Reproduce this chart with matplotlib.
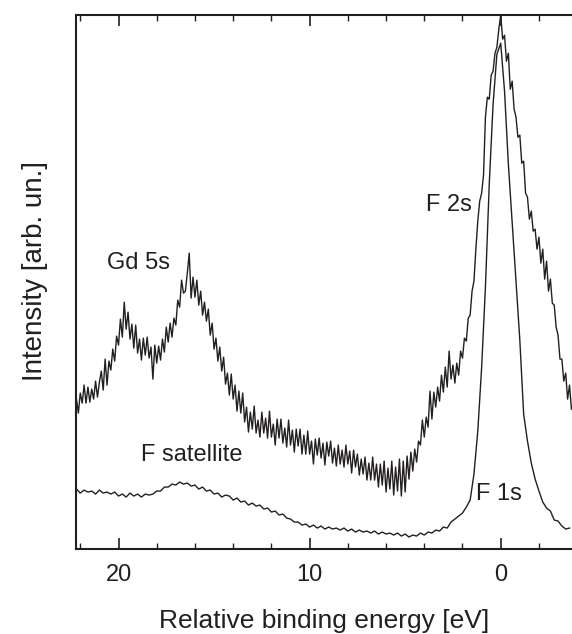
import numpy as np
import matplotlib
matplotlib.use('Agg')
import matplotlib.pyplot as plt
from matplotlib.ticker import MultipleLocator

plt.rcParams['font.family'] = 'Liberation Sans'

INK = '#231f20'

# --- upper spectrum: Gd 5s + F 2s (0.1 eV steps, 22.2 -> -3.7 eV) ---
e_start_hi, e_end_hi = 22.2, -3.7
counts_hi = [
    150, 136, 156, 146, 164, 146, 162, 147, 160, 150,
    168, 152, 167, 178, 159, 190, 164, 188, 179, 200,
    188, 213, 204, 230, 212, 247, 220, 237, 210, 225,
    201, 224, 196, 210, 189, 211, 194, 212, 191, 202,
    170, 204, 186, 203, 189, 210, 197, 222, 207, 226,
    212, 231, 224, 249, 242, 269, 256, 258, 276, 296,
    251, 272, 252, 269, 244, 258, 234, 247, 228, 240,
    214, 226, 200, 211, 188, 202, 178, 192, 165, 176,
    154, 175, 150, 164, 138, 158, 136, 156, 127, 142,
    117, 137, 120, 143, 116, 129, 112, 137, 116, 131,
    111, 138, 112, 125, 104, 130, 111, 130, 106, 121,
    102, 129, 104, 119, 97, 120, 103, 120, 95, 114,
    95, 118, 95, 108, 85, 110, 94, 111, 91, 106,
    84, 107, 93, 108, 86, 101, 83, 104, 85, 99,
    82, 104, 85, 98, 76, 99, 82, 95, 74, 90,
    75, 92, 69, 86, 69, 92, 69, 85, 62, 85,
    64, 88, 57, 81, 60, 88, 54, 82, 58, 90,
    53, 88, 57, 93, 70, 97, 78, 100, 87, 108,
    104, 129, 112, 132, 122, 158, 130, 157, 142, 162,
    148, 174, 157, 182, 162, 198, 170, 184, 166, 186,
    174, 198, 191, 211, 208, 231, 234, 258, 268, 300,
    328, 348, 356, 374, 432, 452, 450, 474, 478, 496,
    502, 520, 534, 510, 514, 488, 496, 460, 468, 440,
    432, 412, 414, 386, 388, 356, 352, 330, 338, 318,
    320, 300, 312, 286, 300, 270, 288, 258, 270, 246,
    244, 222, 214, 190, 190, 168, 176, 150, 164, 140,
]

# --- lower spectrum: F 1s + satellite (0.2 eV steps, 22.2 -> -3.6 eV) ---
e_start_lo, e_end_lo = 22.2, -3.6
counts_lo = [
    60, 56, 59, 57, 58, 55, 59, 56, 57, 55,
    57, 53, 55, 52, 56, 53, 55, 52, 55, 54,
    55, 58, 58, 62, 62, 65, 64, 67, 65, 66,
    63, 64, 60, 62, 58, 59, 55, 56, 52, 54,
    53, 49, 51, 47, 48, 44, 46, 43, 44, 40,
    41, 37, 38, 34, 35, 31, 30, 27, 27, 24,
    25, 22, 24, 21, 23, 20, 22, 20, 21, 19,
    21, 18, 20, 17, 19, 17, 18, 16, 18, 15,
    17, 15, 16, 14, 16, 13, 15, 12, 14, 13,
    16, 14, 17, 16, 19, 18, 22, 21, 27, 30,
    33, 36, 42, 49, 75, 118, 181, 262, 365, 445,
    495, 506, 458, 385, 327, 268, 209, 135, 108, 86,
    70, 58, 47, 41, 38, 29, 28, 23, 20, 21,
]

energy_hi = np.linspace(e_start_hi, e_end_hi, len(counts_hi))
energy_lo = np.linspace(e_start_lo, e_end_lo, len(counts_lo))

# peak labels: (text, energy, intensity)
peak_labels = [
    ('Gd 5s', 18.94, 286),
    ('F 2s', 2.71, 344),
    ('F satellite', 16.16, 94),
    ('F 1s', 0.09, 55),
]

fig = plt.figure(figsize=(5.72, 6.34), dpi=100)
ax = fig.add_axes([0.132, 0.134, 0.868, 0.842])

ax.plot(energy_hi, counts_hi, color=INK, lw=1.0)
ax.plot(energy_lo, counts_lo, color=INK, lw=1.0)

for txt, e, i in peak_labels:
    ax.text(e, i, txt, ha='center', va='center', fontsize=17, color=INK)

ax.set_xlim(22.25, -3.73)
ax.set_ylim(0, 534)
ax.set_yticks([])
ax.xaxis.set_major_locator(MultipleLocator(10))
ax.xaxis.set_minor_locator(MultipleLocator(2))
ax.tick_params(axis='x', which='both', direction='in', top=True, bottom=True,
               colors=INK, labelsize=17, pad=11)
ax.tick_params(axis='x', which='major', length=8, width=1.2)
ax.tick_params(axis='x', which='minor', length=4.5, width=1.0)

for side in ['left', 'top', 'bottom']:
    ax.spines[side].set_linewidth(1.5)
    ax.spines[side].set_color(INK)
ax.spines['right'].set_visible(False)

ax.set_xlabel('Relative binding energy [eV]', fontsize=19, color=INK)
ax.xaxis.set_label_coords(0.5, -0.112)
ax.set_ylabel('Intensity [arb. un.]', fontsize=20, color=INK)
ax.yaxis.set_label_coords(-0.055, 0.52)

fig.savefig('out.png', dpi=100)
